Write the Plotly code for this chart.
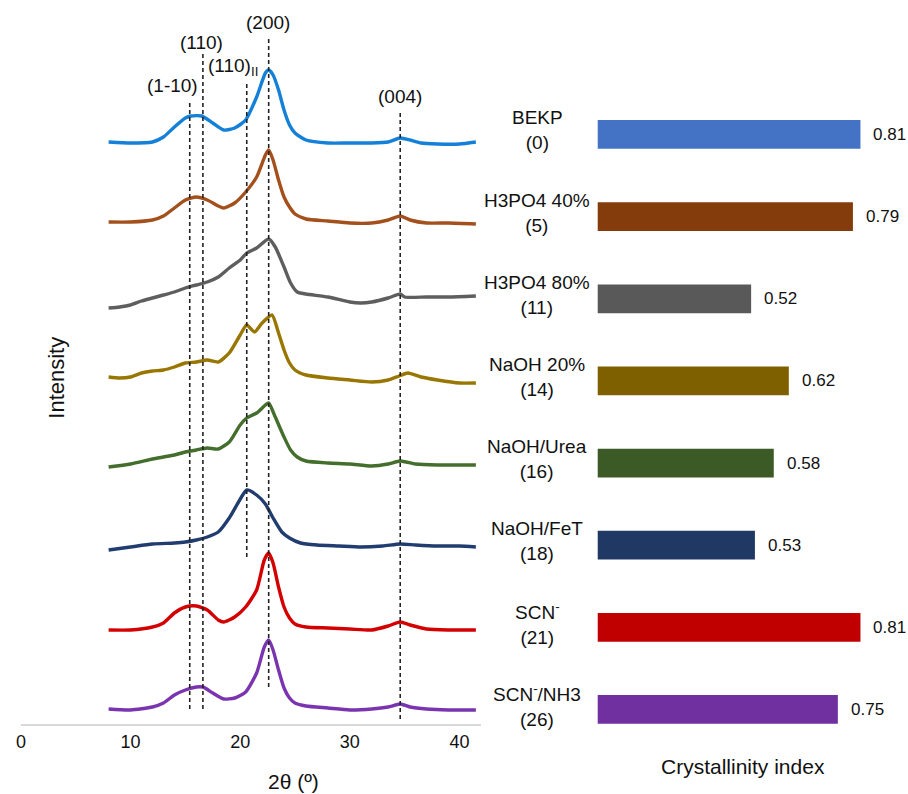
import plotly.graph_objects as go

# ---------------- XRD data (stacked intensity, a.u.) ----------------
x_bekp = [8, 10, 12, 13, 14, 15, 15.5, 16.5, 17.5, 18.5, 19.5, 20.5, 21.5, 22.3, 22.6, 23, 23.5, 24, 24.5, 25, 26, 28, 30, 32, 33.5, 34.6, 35.5, 36.5, 38, 40, 41.5]
y_bekp = [582, 581, 582, 587, 597, 606, 608, 608, 601, 594, 596, 604, 627, 651, 654, 649, 634, 614, 599, 591, 584, 581, 581, 581, 582, 586, 584, 581, 580, 580, 582]

x_h40 = [8, 10, 12, 13, 14, 15, 16, 17, 18, 18.5, 19.5, 20.5, 21.5, 22.3, 22.6, 23, 23.5, 24, 24.5, 25, 26, 28, 30, 32, 33.5, 34.6, 35.5, 37, 39, 41.5]
y_h40 = [502, 502, 504, 508, 516, 524, 527, 524, 518, 516, 521, 532, 547, 569, 574, 564, 544, 527, 517, 510, 505, 503, 501, 501, 504, 508, 504, 501, 501, 500]

x_h80 = [8, 9, 10, 11, 12, 13, 14, 15, 16, 17, 18, 19, 20, 20.6, 21.5, 22.6, 23.2, 24, 24.6, 25.2, 26, 28, 30, 31, 32, 33.5, 34.6, 35, 37, 39, 41.5]
y_h80 = [416, 417, 419, 423, 426, 429, 432, 436, 439, 442, 447, 456, 464, 471, 476, 485, 477, 457, 441, 432, 430, 427, 422, 421, 422, 426, 430, 427, 427, 427, 428]

x_naoh = [8, 9, 10, 11, 12, 13, 14, 15, 16, 17, 18, 19, 20, 20.6, 21.3, 22, 22.9, 23.5, 24, 24.5, 25, 26, 28, 30, 32, 33.5, 34.5, 35.3, 36.5, 38, 40, 41.5]
y_naoh = [347, 346, 347, 351, 353, 354, 357, 361, 362, 364, 362, 371, 389, 399, 392, 401, 409, 391, 374, 361, 354, 349, 346, 344, 342, 344, 348, 351, 347, 344, 341, 341]

x_urea = [8, 10, 12, 13, 14, 15, 16, 17, 18, 19, 20, 20.6, 21.5, 22.3, 22.6, 23.2, 24, 24.6, 25.2, 26, 28, 30, 32, 33.5, 34.6, 36, 38, 40, 41.5]
y_urea = [257, 260, 265, 267, 269, 272, 274, 276, 275, 282, 299, 306, 311, 319, 321, 307, 287, 274, 267, 263, 261, 260, 258, 260, 263, 260, 259, 259, 259]

x_fet = [8, 10, 12, 14, 15, 16, 17, 18, 19, 19.8, 20.6, 21.5, 22.3, 23, 23.8, 24.5, 25.5, 27, 29, 31, 33, 34.6, 36, 38, 40, 41.5]
y_fet = [174, 177, 180, 181, 182, 184, 187, 192, 206, 221, 234, 229, 220, 206, 192, 186, 181, 179, 178, 177, 178, 180, 179, 178, 178, 177]

x_scn = [8, 10, 12, 13, 14, 15, 16, 17, 18, 18.5, 19.5, 20.5, 21.5, 22.2, 22.6, 23, 23.5, 24, 24.5, 25, 26, 28, 30, 32, 33.5, 34.6, 35.5, 37, 39, 41.5]
y_scn = [94, 94, 97, 101, 111, 117, 118, 114, 104, 102, 107, 117, 134, 164, 171, 161, 137, 117, 106, 100, 97, 96, 95, 94, 98, 102, 99, 95, 94, 94]

x_nh3 = [8, 10, 12, 13, 14, 15, 16, 16.6, 17.5, 18.5, 19.5, 20.5, 21.5, 22.2, 22.6, 23, 23.5, 24, 24.5, 25, 26, 28, 30, 32, 33.5, 34.6, 35.5, 37, 39, 41.5]
y_nh3 = [15, 14, 17, 21, 29, 34, 37, 37, 31, 25, 26, 32, 51, 77, 84, 74, 54, 36, 26, 21, 18, 16, 14, 15, 17, 20, 17, 15, 14, 14]

# peaks
peak_labels = ["(1-10)", "(110)", "(110)<sub>II</sub>", "(200)", "(004)"]
peak_2theta = [15.4, 16.6, 20.6, 22.6, 34.6]

# ---------------- Crystallinity index ----------------
categories = ["BEKP<br>(0)", "H3PO4 40%<br>(5)", "H3PO4 80%<br>(11)", "NaOH 20%<br>(14)",
              "NaOH/Urea<br>(16)", "NaOH/FeT<br>(18)", "SCN<sup>-</sup><br>(21)", "SCN<sup>-</sup>/NH3<br>(26)"]
cryst_index = [0.81, 0.79, 0.52, 0.62, 0.58, 0.53, 0.81, 0.75]
x_ticks = [0, 10, 20, 30, 40]

curve_colors = ["#1580d8", "#a4501c", "#5e5e5e", "#987600", "#436e2c", "#213d70", "#d40000", "#7a34b0"]
bar_colors = ["#4472C4", "#843C0C", "#595959", "#7F6000", "#3B5A26", "#203864", "#C00000", "#7030A0"]

FONT = "Liberation Sans, Arial, sans-serif"

fig = go.Figure()
xs = [x_bekp, x_h40, x_h80, x_naoh, x_urea, x_fet, x_scn, x_nh3]
ys = [y_bekp, y_h40, y_h80, y_naoh, y_urea, y_fet, y_scn, y_nh3]
for xv, yv, c in zip(xs, ys, curve_colors):
    fig.add_trace(go.Scatter(x=xv, y=yv, mode="lines",
                             line=dict(color=c, width=3.4, shape="spline", smoothing=0.6),
                             xaxis="x", yaxis="y", showlegend=False, hoverinfo="skip"))

idx = list(range(len(categories)))
fig.add_trace(go.Bar(x=cryst_index, y=idx, orientation="h", width=0.35,
                     marker=dict(color=bar_colors, line=dict(width=0)),
                     xaxis="x2", yaxis="y2", showlegend=False, hoverinfo="skip"))

# dashed peak lines (top/bottom extents in intensity units)
tops = [621, 672, 641, 687, 612]
bottoms = [15, 15, 167, 37, 5]
for xp, t, b in zip(peak_2theta, tops, bottoms):
    fig.add_shape(type="line", x0=xp, x1=xp, y0=b, y1=t, xref="x", yref="y",
                  line=dict(color="#222222", width=1.6, dash="4px,3px"))

# peak labels
lab_pos = [(13.87, 639), (16.5, 682), (19.3, 657), (22.57, 702), (34.55, 628)]
for lab, (lx, ly) in zip(peak_labels, lab_pos):
    fig.add_annotation(x=lx, y=ly, xref="x", yref="y", text=lab, showarrow=False,
                       xanchor="center", yanchor="middle",
                       font=dict(family=FONT, size=19, color="#111111"))

# category labels and values
for i, (cat, v) in enumerate(zip(categories, cryst_index)):
    fig.add_annotation(x=535 / 908, y=i, xref="paper", yref="y2", text=cat, showarrow=False,
                       align="center", xanchor="center", yanchor="middle", yshift=4,
                       font=dict(family=FONT, size=19, color="#111111"))
    fig.add_annotation(x=v, y=i, xref="x2", yref="y2", text=f"{v:.2f}", showarrow=False,
                       xanchor="left", yanchor="middle", xshift=11,
                       font=dict(family=FONT, size=17, color="#111111"))

fig.add_annotation(x=51 / 908, y=1 - 378 / 754, xref="paper", yref="paper", text="Intensity",
                   textangle=-90, showarrow=False, xanchor="center", yanchor="middle",
                   font=dict(family=FONT, size=22, color="#111111"))
fig.add_annotation(x=290 / 908, y=1 - 781 / 754, xref="paper", yref="paper", text="2θ (º)",
                   showarrow=False, xanchor="center", yanchor="middle",
                   font=dict(family=FONT, size=21, color="#111111"))
fig.add_annotation(x=742 / 908, y=1 - 767 / 754, xref="paper", yref="paper", text="Crystallinity index",
                   showarrow=False, xanchor="center", yanchor="middle",
                   font=dict(family=FONT, size=21, color="#111111"))

fig.update_layout(
    width=908, height=794,
    margin=dict(l=0, r=0, t=0, b=40),
    paper_bgcolor="white", plot_bgcolor="white",
    font=dict(family=FONT, color="#111111"),
    hovermode=False,
    xaxis=dict(domain=[16 / 908, 479 / 908], range=[0, 42], tickvals=x_ticks,
               showgrid=False, zeroline=False, showline=True, linecolor="#d9d9d9", linewidth=2,
               ticks="", tickfont=dict(size=18, family=FONT, color="#111111"), anchor="y"),
    yaxis=dict(domain=[30 / 754, 1], range=[0, 724], visible=False, anchor="x"),
    xaxis2=dict(domain=[596 / 908, 900 / 908], range=[0.113, 0.915], visible=False, anchor="y2"),
    yaxis2=dict(domain=[0, 1], range=[7.542, -1.637], visible=False, anchor="x2"),
)

fig.write_html("out.html", config={"displayModeBar": False, "staticPlot": True},
               post_script="document.body.style.margin='0';document.body.style.overflow='hidden';")
